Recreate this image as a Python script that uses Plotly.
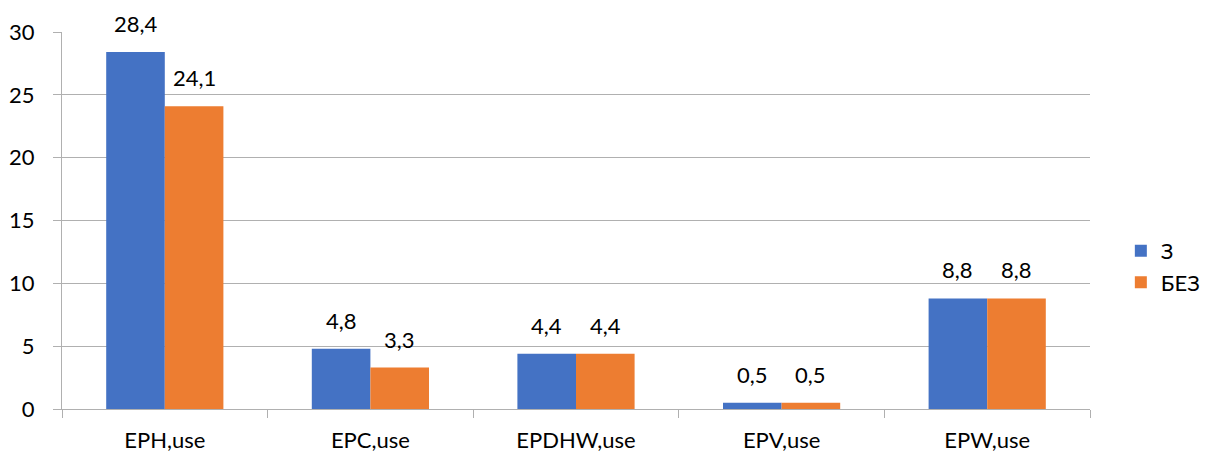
import plotly.graph_objects as go

categories = ["EPH,use", "EPC,use", "EPDHW,use", "EPV,use", "EPW,use"]
series_z = [28.4, 4.8, 4.4, 0.5, 8.8]
series_bez = [24.1, 3.3, 4.4, 0.5, 8.8]
series_names = ["З", "БЕЗ"]
y_ticks = [0, 5, 10, 15, 20, 25, 30]

FONT = "Lato, Carlito, Calibri, sans-serif"
GRID = "#b0b0b0"
COLORS = ["#4472c4", "#ed7d31"]
BAR_PX = 58.5  # drawn width of one bar, used to centre its value label


def fmt(v):
    return f"{v:.1f}".replace(".", ",")


fig = go.Figure()
for name, vals, col in zip(series_names, [series_z, series_bez], COLORS):
    fig.add_trace(go.Bar(
        x=categories, y=vals, name=name,
        marker=dict(color=col, line=dict(width=0)),
    ))

# value labels above each bar
for shift, vals in zip([-BAR_PX / 2, BAR_PX / 2], [series_z, series_bez]):
    for cat, v in zip(categories, vals):
        fig.add_annotation(
            x=cat, y=v, text=fmt(v), showarrow=False,
            xshift=shift, yshift=13, yanchor="bottom",
            font=dict(size=22, color="#000000", family=FONT),
        )

fig.update_layout(
    width=1205, height=456,
    margin=dict(l=62, r=115, t=32, b=47, autoexpand=False),
    paper_bgcolor="white", plot_bgcolor="white",
    font=dict(family=FONT, size=22, color="#000000"),
    barmode="group", bargap=0.43, bargroupgap=0,
    showlegend=True,
    legend=dict(x=1.03, y=0.377, yanchor="middle", xanchor="left",
                font=dict(size=22), tracegroupgap=18, itemwidth=30,
                bgcolor="rgba(0,0,0,0)"),
)
fig.update_xaxes(
    showline=True, linecolor=GRID, linewidth=1,
    ticks="outside", tickson="boundaries", ticklen=8, tickcolor=GRID,
    showgrid=False, tickfont=dict(size=22), ticklabelstandoff=12,
)
fig.update_yaxes(
    range=[0, 30], tickvals=y_ticks,
    showline=True, linecolor=GRID, linewidth=1,
    ticks="outside", ticklen=8, tickcolor=GRID,
    showgrid=True, gridcolor=GRID, gridwidth=1,
    zeroline=False, tickfont=dict(size=22), ticklabelstandoff=14,
)

fig.write_html("out.html")
